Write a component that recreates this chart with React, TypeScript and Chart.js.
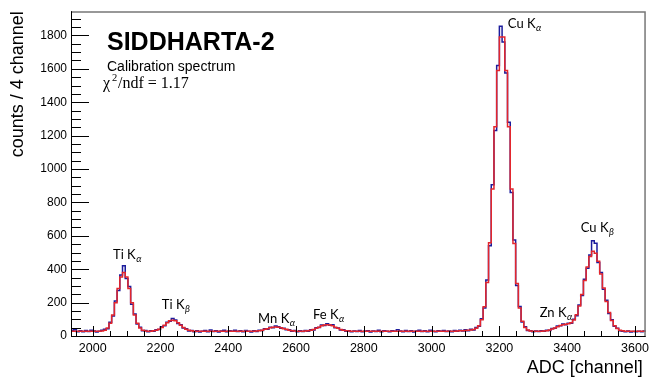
import React, { useEffect, useRef } from 'react';
import { Chart, registerables } from 'chart.js';

Chart.register(...registerables);

// Histogram binning (ADC channels); y is counts / 4 channel
const binStart = 1936;
const binWidth = 8;

const countsData = [
  34, 38, 26, 31, 25, 33, 27, 35, 30, 24, 29,
  34, 40, 44, 82, 120, 210, 272, 365, 420, 345, 296, 190, 132, 72, 52, 31, 33,
  25, 31, 28, 37, 39, 55, 62, 83, 89, 105, 96, 75, 68, 48, 43, 30, 33, 26,
  31, 24, 29, 33, 25, 36, 27, 31, 24, 30, 34, 26, 32, 29, 35, 27, 31, 25, 33, 28, 24,
  31, 27, 35, 33, 43, 41, 52, 50, 60, 55, 46, 47, 37, 38, 29, 33, 26, 31,
  27, 33, 29, 37, 36, 50, 51, 66, 63, 74, 64, 67, 50, 48, 36, 37, 28, 32, 26, 30,
  27, 33, 25, 29, 32, 24, 30, 27, 34, 26, 31, 28, 25, 32, 29, 38, 30, 26, 33, 27, 31, 24, 30, 34, 27, 31, 25, 35, 29, 26, 32, 28, 33, 27, 30, 26,
  33, 28, 35, 30, 37, 32, 40, 36, 51, 58, 104, 168, 335, 540, 905, 1230, 1620, 1855, 1760, 1575, 1280, 860, 575, 302, 176, 84, 55, 33, 32,
  25, 30, 27, 32, 28, 35, 33, 45, 46, 60, 61, 72, 68, 76, 77, 100, 122, 186, 242, 340, 405,
  485, 570, 555, 440, 380, 280, 214, 135, 97, 58, 47, 32, 28, 25, 30, 24, 27, 26, 29, 25, 30,
];

const fitData = [
  28, 28, 28, 28, 28, 28, 28, 28, 28, 28, 28,
  30, 35, 48, 76, 126, 199, 284, 353, 380, 353, 284, 199, 126, 76, 48, 35, 30,
  28, 29, 31, 34, 41, 51, 65, 79, 91, 95, 91, 79, 65, 51, 41, 34, 31, 29,
  28, 28, 28, 28, 28, 28, 28, 28, 28, 28, 28, 28, 28, 28, 28, 28, 28, 28, 28, 28, 28,
  29, 30, 32, 35, 40, 44, 49, 53, 54, 53, 49, 44, 40, 35, 32, 30, 29, 28,
  29, 30, 31, 34, 39, 46, 53, 61, 66, 68, 66, 61, 53, 46, 39, 34, 31, 30, 29, 28,
  28, 28, 28, 28, 28, 28, 28, 28, 28, 28, 28, 28, 28, 28, 28, 28, 28, 28, 28, 28, 28, 28, 28, 28, 28, 28, 28, 28, 28, 28, 28, 28, 28, 28, 28, 28,
  29, 30, 31, 32, 33, 34, 36, 39, 46, 61, 98, 175, 320, 559, 881, 1253, 1590, 1790, 1790, 1590, 1253, 881, 554, 314, 167, 88, 51, 36, 30,
  28, 28, 28, 29, 30, 32, 36, 42, 48, 56, 63, 68, 70, 73, 80, 96, 128, 179, 249, 332, 413,
  476, 507, 496, 448, 372, 287, 206, 140, 93, 62, 45, 35, 31, 29, 28, 28, 28, 28, 28, 28, 28,
];

const xTickLabels = [2000, 2200, 2400, 2600, 2800, 3000, 3200, 3400, 3600];
const yTickLabels = [0, 200, 400, 600, 800, 1000, 1200, 1400, 1600, 1800];
const xMin = 1936;
const xMax = 3632;
const yMax = 1945;

const peakNames = ['Ti K', 'Ti K', 'Mn K', 'Fe K', 'Cu K', 'Zn K', 'Cu K'];
const peakSubs = ['α', 'β', 'α', 'α', 'α', 'α', 'β'];
const peakLabelX = [2060, 2204, 2488, 2650, 3225, 3319, 3440];
const peakLabelY = [464, 162, 75, 103, 1847, 111, 621];

const xTitle = 'ADC [channel]';
const yTitle = 'counts / 4 channel';
const mainTitle = 'SIDDHARTA-2';
const subTitle = 'Calibration spectrum';
const chiText = '/ndf = 1.17';

function toSteps(values: number[]) {
  const pts = values.map((v, i) => ({ x: binStart + i * binWidth, y: v }));
  pts.push({ x: binStart + values.length * binWidth, y: values[values.length - 1] });
  return pts;
}

const decorPlugin = {
  id: 'decor',
  afterDatasetsDraw(chart: any) {
    const { ctx, chartArea: ca, scales } = chart;
    const x = scales.x;
    const y = scales.y;
    ctx.save();
    // ticks (ROOT style, inside)
    ctx.strokeStyle = '#000';
    ctx.lineWidth = 1;
    ctx.beginPath();
    for (let v = 1950; v <= xMax; v += 50) {
      const px = Math.round(x.getPixelForValue(v)) + 0.5;
      const len = v % 200 === 0 ? 10 : 5;
      ctx.moveTo(px, ca.bottom);
      ctx.lineTo(px, ca.bottom - len);
    }
    for (let v = 0; v <= yMax; v += 50) {
      const py = Math.round(y.getPixelForValue(v)) + 0.5;
      const len = v % 200 === 0 ? 18 : 10;
      ctx.moveTo(ca.left, py);
      ctx.lineTo(ca.left + len, py);
    }
    ctx.stroke();
    // frame
    ctx.strokeStyle = '#777';
    ctx.lineWidth = 1.5;
    ctx.beginPath();
    ctx.moveTo(ca.left, ca.top + 0.75);
    ctx.lineTo(ca.right - 0.75, ca.top + 0.75);
    ctx.lineTo(ca.right - 0.75, ca.bottom);
    ctx.stroke();
    ctx.strokeStyle = '#000';
    ctx.lineWidth = 1;
    ctx.beginPath();
    ctx.moveTo(ca.left + 0.5, ca.top);
    ctx.lineTo(ca.left + 0.5, ca.bottom + 0.5);
    ctx.lineTo(ca.right, ca.bottom + 0.5);
    ctx.stroke();

    // peak labels
    ctx.fillStyle = '#000';
    ctx.textBaseline = 'alphabetic';
    ctx.textAlign = 'left';
    peakNames.forEach((name, i) => {
      const px = x.getPixelForValue(peakLabelX[i]);
      const py = y.getPixelForValue(peakLabelY[i]);
      ctx.font = '13px Lato';
      ctx.fillText(name, px, py);
      const w = ctx.measureText(name).width;
      ctx.font = 'italic 9.5px Lato';
      ctx.fillText(peakSubs[i], px + w + 0.5, py + 3);
    });

    // title block
    ctx.font = 'bold 25px "Liberation Sans"';
    ctx.fillText(mainTitle, ca.left + 36, ca.top + 39);
    ctx.font = '14px "Liberation Sans"';
    ctx.fillText(subTitle, ca.left + 36, ca.top + 60);
    ctx.font = '16px "Liberation Serif"';
    ctx.fillText('χ', ca.left + 32, ca.top + 77);
    ctx.font = '10.5px "Liberation Serif"';
    ctx.fillText('2', ca.left + 41, ca.top + 70);
    ctx.font = '16px "Liberation Serif"';
    ctx.fillText(chiText, ca.left + 47, ca.top + 77);

    // axis titles
    ctx.font = '18px "Liberation Sans"';
    ctx.textAlign = 'right';
    ctx.fillText(xTitle, ca.right - 3, 373);
    ctx.save();
    ctx.translate(23, ca.top);
    ctx.rotate(-Math.PI / 2);
    ctx.textAlign = 'right';
    ctx.fillText(yTitle, 0, 0);
    ctx.restore();
    ctx.restore();
  },
};

export default function App() {
  const ref = useRef<HTMLCanvasElement>(null);
  useEffect(() => {
    document.body.style.margin = '0';
    const canvas = ref.current!;
    Chart.defaults.font.family = '"Liberation Sans", Arial, sans-serif';
    const chart = new Chart(canvas, {
      type: 'line',
      data: {
        datasets: [
          {
            label: 'fit',
            data: toSteps(fitData),
            borderColor: '#e3262d',
            borderWidth: 1.5,
            pointRadius: 0,
            stepped: true,
            fill: false,
          },
          {
            label: 'data',
            data: toSteps(countsData),
            borderColor: '#1c1c9c',
            borderWidth: 1.5,
            pointRadius: 0,
            stepped: true,
            fill: false,
          },
        ],
      },
      options: {
        responsive: false,
        animation: false,
        events: [],
        layout: { padding: { left: 0, right: 8, top: 5, bottom: 0 } },
        plugins: { legend: { display: false }, tooltip: { enabled: false }, title: { display: false } },
        scales: {
          x: {
            type: 'linear',
            min: xMin,
            max: xMax,
            grid: { display: false, drawTicks: false, tickLength: 0 },
            border: { display: false },
            afterBuildTicks: (s: any) => {
              s.ticks = xTickLabels.map((v) => ({ value: v }));
            },
            afterFit: (s: any) => {
              s.height = 52;
            },
            ticks: {
              padding: 5,
              maxRotation: 0,
              autoSkip: false,
              color: '#000',
              font: { size: 12.5 },
              callback: (v: any) => String(v),
            },
          },
          y: {
            type: 'linear',
            min: 0,
            max: yMax,
            grid: { display: false, drawTicks: false, tickLength: 0 },
            border: { display: false },
            afterBuildTicks: (s: any) => {
              s.ticks = yTickLabels.map((v) => ({ value: v }));
            },
            afterFit: (s: any) => {
              s.width = 71;
            },
            ticks: {
              padding: 4,
              autoSkip: false,
              color: '#000',
              font: { size: 12 },
              callback: (v: any) => String(v),
            },
          },
        },
      },
      plugins: [decorPlugin],
    });
    return () => chart.destroy();
  }, []);
  return (
    <div style={{ width: 654, height: 388, background: '#fff' }}>
      <canvas ref={ref} width={654} height={388} style={{ display: 'block', width: 654, height: 388 }} />
    </div>
  );
}
